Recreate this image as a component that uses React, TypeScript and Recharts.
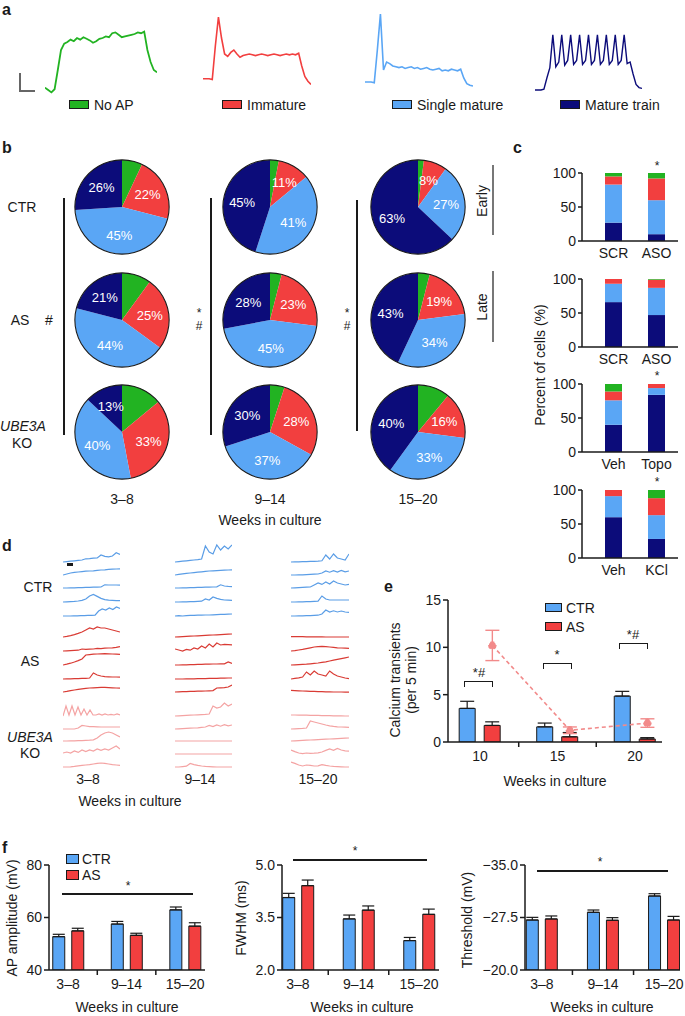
import React from 'react';
import {
  PieChart, Pie, Cell, BarChart, Bar, XAxis, YAxis, ErrorBar, LineChart, Line, ComposedChart,
} from 'recharts';

const FONT = '"Liberation Sans", Arial, Helvetica, sans-serif';
const INK = '#1a1a1a';
const GREEN = '#22b322';
const RED = '#f23f3f';
const LBLUE = '#5aa6f5';
const NAVY = '#0c0c7a';
const TYPE_COLORS = [GREEN, RED, LBLUE, NAVY];

// a: example traces (arbitrary units, 0-100)
const traceNoAP = [8, 5, 2, 6, 30, 55, 63, 65, 68, 66, 70, 68, 71, 69, 67, 64, 66, 69, 70, 72, 71, 76, 77, 74, 71, 72, 73, 74, 75, 77, 76, 78, 55, 40, 30, 27];
const traceImmature = [19, 19, 19, 18, 60, 96, 70, 50, 47, 52, 55, 50, 46, 48, 49, 50, 49, 48, 49, 50, 49, 48, 49, 50, 49, 48, 49, 50, 49, 50, 49, 51, 35, 22, 16, 12];
const traceSingle = [15, 15, 15, 14, 55, 100, 30, 40, 38, 35, 34, 33, 34, 32, 33, 34, 32, 33, 31, 32, 33, 31, 30, 31, 32, 29, 30, 29, 31, 30, 29, 31, 20, 13, 11, 10];
const traceTrain = [5, 5, 5, 6, 20, 33, 74, 34, 40, 74, 36, 42, 74, 37, 42, 74, 37, 42, 74, 37, 42, 74, 37, 42, 74, 37, 42, 74, 37, 42, 74, 38, 40, 25, 12, 8, 7];
const typeNames = ['No AP', 'Immature', 'Single mature', 'Mature train'];

// b: pies, rows CTR / AS / UBE3A KO, columns 3–8 / 9–14 / 15–20
const weekBins = ['3–8', '9–14', '15–20'];
const pieNoAP = [[7, 3, 2], [10, 4, 4], [14, 5, 11]];
const pieImmature = [[22, 11, 8], [25, 23, 19], [33, 28, 16]];
const pieSingle = [[45, 41, 27], [44, 45, 34], [40, 37, 33]];
const pieTrain = [[26, 45, 63], [21, 28, 43], [13, 30, 40]];

// c: stacked percent bars
const cGroups = [['SCR', 'ASO'], ['SCR', 'ASO'], ['Veh', 'Topo'], ['Veh', 'KCl']];
const cTrain = [[27, 10], [66, 47], [40, 84], [60, 28]];
const cSingle = [[56, 50], [27, 40], [36, 10], [31, 35]];
const cImmature = [[12, 32], [7, 12], [13, 6], [9, 25]];
const cNoAP = [[5, 8], [0, 1], [11, 0], [0, 12]];

// d: calcium traces (5 per group)
const dCtr38 = [
  [1, 1.2, 1.4, 1.6, 1.8, 2, 2.6, 2.7, 2.9, 3, 4.5, 3.8, 3.6, 4, 5.6, 4.8],
  [1, 1.5, 2, 2.3, 2.5, 2.7, 2.9, 3, 3.1, 3.3, 3.5, 3.6, 3.8, 3.9, 4, 4.1],
  [1, 1, 1.1, 1.1, 1.2, 1.2, 1.3, 1.3, 1.4, 1.4, 1.5, 2.6, 2.5, 2.5, 2.5, 2.4],
  [1, 1.1, 1.2, 1.3, 1.5, 1.8, 2.5, 4, 4.8, 3.8, 2.8, 2.2, 1.9, 1.8, 1.7, 1.7],
  [1, 1, 1, 1.1, 1.1, 1.2, 1.2, 1.3, 1.3, 1.4, 3.5, 4.5, 4, 5, 4.2, 5.5, 4.8],
];
const dCtr914 = [
  [1, 1.2, 1.4, 1.6, 1.8, 2, 2.2, 2.5, 9, 6, 5, 9.5, 7, 9, 7.5, 9.5],
  [1, 1.3, 1.6, 1.8, 2, 2.2, 2.4, 2.6, 2.8, 3, 3.1, 3.2, 3.3, 3.4, 3.5, 3.6],
  [1, 1, 1.1, 1.1, 1.2, 1.2, 1.3, 1.3, 1.4, 1.4, 1.5, 1.6, 2.6, 2, 1.8, 1.7],
  [1, 1, 1.1, 1.1, 1.2, 1.2, 1.3, 1.4, 2.5, 2, 3.5, 2.8, 2.3, 2, 1.9, 1.8],
  [1, 1.2, 1, 1.2, 1.3, 1.3, 1.4, 1.4, 1.5, 1.5, 1.6, 1.7, 1.8, 1.8, 1.9, 2],
];
const dCtr1520 = [
  [1, 1.1, 1.1, 1.2, 1.2, 1.3, 1.3, 1.4, 1.6, 4.5, 2.5, 5, 3, 2.5, 2, 5],
  [1, 1, 1.1, 1.1, 1.2, 1.3, 1.4, 1.5, 2, 3, 2.4, 3.2, 2.5, 3.3, 2.6, 3],
  [1, 1.1, 1.2, 1.3, 1.4, 1.5, 2.5, 3.5, 2.8, 4, 3, 4.5, 3.5, 3, 2.5, 2.8],
  [1, 1, 1.1, 1.1, 1.2, 1.2, 1.3, 1.4, 4, 2.5, 2, 2, 2, 2, 2, 2],
  [1, 1, 1.1, 1.1, 1.2, 1.2, 1.3, 1.4, 2, 4, 3, 3.6, 3, 3.5, 3, 2.8],
];
const dAs38 = [
  [1, 1.3, 1.7, 2.2, 2.8, 3.5, 4.5, 5.5, 5, 6, 5.5, 5.5, 5, 4.5, 4, 3.5],
  [1, 1.1, 1.2, 1.3, 1.4, 2, 1.8, 1.9, 2, 2.3, 2.2, 2.4, 2.5, 2.6, 2.8, 3.2],
  [1, 1.4, 1.9, 2.5, 3.2, 4, 6, 6.2, 6.4, 6.5, 6.6, 6.7, 6.6, 6.5, 6.4, 6.3],
  [1, 1.1, 1.1, 1.2, 1.2, 1.3, 1.3, 1.5, 4, 3, 2.5, 2.2, 2.1, 2, 2, 1.9],
  [1, 1.3, 1.7, 2, 2.3, 2.6, 2.8, 3, 3.1, 3.2, 3.3, 3.3, 3.2, 3.1, 3, 2.9],
];
const dAs914 = [
  [1, 1.1, 1.2, 1.3, 1.4, 1.5, 1.6, 1.7, 1.8, 1.9, 2, 2.1, 2.2, 2.3, 2.4, 2.5],
  [2, 1.5, 1, 1.8, 1.4, 2.5, 2, 3.5, 2.5, 4.5, 3, 5, 4, 4.3, 4.2, 4.1],
  [1, 1, 1.1, 1.1, 1.2, 1.2, 1.3, 1.3, 1.4, 1.4, 1.5, 1.5, 1.6, 1.6, 2.5, 1.8],
  [1, 1, 1, 1.1, 1.1, 1.1, 1.2, 1.2, 1.2, 1.3, 1.3, 1.3, 1.4, 1.4, 1.5, 1.5],
  [1, 1.1, 1.2, 1.2, 1.3, 1.3, 1.4, 1.4, 1.5, 1.6, 1.7, 3, 3.1, 3.2, 3.5, 4.5],
];
const dAs1520 = [
  [1.2, 1.2, 1.2, 1.2, 1.1, 1.1, 1.1, 1.1, 1.1, 1, 1, 1, 1, 1, 1, 1],
  [1, 1.2, 1.5, 1.8, 2.2, 2.6, 3, 3.2, 3.3, 3.2, 3, 2.8, 2.6, 2.5, 2.4, 2.3],
  [1, 1.1, 1.2, 1.3, 1.4, 1.6, 1.8, 2, 2.3, 2.6, 3, 3.4, 3.8, 4.2, 4.6, 5],
  [1, 1.3, 1.6, 2, 4.5, 3, 5, 3.5, 3, 2.5, 5, 3.5, 2.5, 2, 1.5, 1.2],
  [1.8, 1.7, 1.6, 1.5, 1.4, 1.3, 1.3, 1.2, 1.2, 1.1, 1.1, 1, 1, 1, 0.9, 0.9],
];
const dKo38 = [
  [1, 6, 1.5, 6, 1.5, 5.5, 1.5, 4.5, 1.5, 4, 1.5, 1.5, 2, 1.5, 2, 1.5, 1.8, 1.5, 2, 1.5],
  [1, 1, 1, 1, 1.5, 2.8, 2.5, 2.2, 2.2, 2.1, 2, 2, 2, 2, 2, 2],
  [1, 1, 1.1, 1.1, 1.2, 1.2, 1.3, 1.4, 1.6, 2.5, 4, 5, 5.5, 5, 4, 3],
  [1.5, 2, 1.5, 2.5, 1.8, 3, 2.2, 3, 2.5, 3.5, 2.8, 3.5, 3, 4, 5, 3.5],
  [1, 1, 1.1, 1.3, 1.6, 1.8, 2, 2.2, 2.5, 2.8, 3, 2.8, 2.5, 2.2, 2, 1.8],
];
const dKo914 = [
  [1, 1.1, 1.2, 1.3, 1.4, 1.5, 1.6, 1.7, 1.8, 2, 6, 5, 5.5, 7.5, 6, 7],
  [1, 1.1, 1.2, 1.3, 1.4, 1.5, 1.6, 1.8, 2, 2.8, 2.2, 3, 2.4, 3.2, 2.6, 3],
  [1, 1, 1, 1, 1, 1, 1, 1, 1, 1, 1, 1, 1, 1, 1, 1],
  [1, 1, 1, 1, 1, 1, 1, 1, 1, 1, 1, 1, 1, 1, 1, 1],
  [1, 1, 1.2, 1.4, 2.8, 2.2, 1.8, 1.5, 1.3, 1.2, 1.1, 1, 1, 1, 1, 1],
];
const dKo1520 = [
  [1.5, 1.5, 1.4, 1.4, 1.4, 1.3, 1.3, 1.3, 1.2, 1.2, 1.2, 1.1, 1.1, 1.1, 1, 1],
  [1, 1.1, 1.2, 1.3, 1.5, 5, 4.5, 4, 3.5, 3, 2.6, 2.3, 2.1, 2, 1.9, 1.8],
  [1, 1.1, 1.2, 1.3, 1.4, 1.5, 1.6, 1.7, 1.8, 1.9, 2, 2.1, 2.2, 2.3, 2.4, 2.5],
  [3, 2.2, 1.5, 1.2, 1.5, 1.3, 1.4, 1.6, 2, 2.8, 3.5, 2.8, 3.8, 3, 2.6, 2.4],
  [3.5, 2.8, 2, 1.5, 2, 1.8, 1.5, 1.6, 2.2, 1.8, 1.5, 1.3, 1.2, 1.1, 1, 1],
];

// e: calcium transients per 5 min
const eWeeks = [10, 15, 20];
const eCtr = [3.55, 1.6, 4.85];
const eCtrErr = [0.75, 0.4, 0.5];
const eAs = [1.75, 0.55, 0.32];
const eAsErr = [0.38, 0.45, 0.14];
const eKo = [10.2, 1.24, 2.0];
const eKoErr = [1.6, 0.35, 0.45];

// f: AP properties
const fGroups = [1, 2, 3];
const fAmpCtr = [52.7, 57.5, 62.9];
const fAmpCtrErr = [0.9, 1.0, 1.1];
const fAmpAs = [54.9, 53.2, 56.7];
const fAmpAsErr = [1.0, 0.8, 1.3];
const fFwhmCtr = [4.07, 3.46, 2.84];
const fFwhmCtrErr = [0.12, 0.11, 0.09];
const fFwhmAs = [4.41, 3.71, 3.59];
const fFwhmAsErr = [0.16, 0.12, 0.15];
const fThrCtr = [-27.14, -28.24, -30.57];
const fThrCtrErr = [0.38, 0.33, 0.33];
const fThrAs = [-27.29, -27.1, -27.14];
const fThrAsErr = [0.43, 0.38, 0.52];

const T = ({ x, y, children, size = 14, anchor = 'middle', rot = 0, bold = false, italic = false, color = INK }: any) => {
  const tx = anchor === 'middle' ? '-50%' : anchor === 'end' ? '-100%' : '0';
  return (
    <div style={{
      position: 'absolute', left: x, top: y, transform: `translate(${tx},-50%) rotate(${rot}deg)`,
      fontSize: size, fontWeight: bold ? 700 : 400, fontStyle: italic ? 'italic' : 'normal',
      color, whiteSpace: 'nowrap', lineHeight: 1,
    }}>{children}</div>
  );
};

const Box = ({ x, y, w, h, bg = INK, border }: any) => (
  <div style={{ position: 'absolute', left: x, top: y, width: w, height: h, background: bg, border, boxSizing: 'border-box' }} />
);

const Bracket = ({ x, y, w }: any) => (
  <div style={{ position: 'absolute', left: x, top: y, width: w, height: 6, borderTop: `1.5px solid ${INK}`, borderLeft: `1.5px solid ${INK}`, borderRight: `1.5px solid ${INK}`, boxSizing: 'border-box' }} />
);

const Trace = ({ values, x, y, w, h, color, lo, hi, sw = 1.5 }: any) => {
  const data = values.map((v: number, i: number) => ({ i, v }));
  return (
    <div style={{ position: 'absolute', left: x, top: y }}>
      <LineChart width={w} height={h} data={data} margin={{ top: 0, right: 0, bottom: 0, left: 0 }}>
        <XAxis dataKey="i" hide />
        <YAxis hide domain={[lo, hi]} allowDataOverflow />
        <Line dataKey="v" type="linear" stroke={color} strokeWidth={sw} dot={false} isAnimationActive={false} />
      </LineChart>
    </div>
  );
};

const RAD = Math.PI / 180;
const pieLabel = (p: any) => {
  if (p.index === 0) return null;
  const r = p.outerRadius * 0.6;
  const x = p.cx + r * Math.cos(-p.midAngle * RAD);
  const y = p.cy + r * Math.sin(-p.midAngle * RAD);
  const v = p.value ?? (p.payload && p.payload.value);
  return (
    <text x={x} y={y} fill="#fff" fontSize={13} textAnchor="middle" dominantBaseline="central" fontFamily={FONT}>{v}%</text>
  );
};

const TypePie = ({ cx, cy, row, col }: any) => {
  const vals = [pieNoAP[row][col], pieImmature[row][col], pieSingle[row][col], pieTrain[row][col]];
  const data = typeNames.map((n, i) => ({ name: n, value: vals[i] }));
  return (
    <div style={{ position: 'absolute', left: cx - 52, top: cy - 52 }}>
      <PieChart width={104} height={104} margin={{ top: 0, right: 0, bottom: 0, left: 0 }}>
        <Pie data={data} dataKey="value" cx={52} cy={52} outerRadius={47} startAngle={90} endAngle={-270}
          stroke="none" label={pieLabel} labelLine={false} isAnimationActive={false}>
          {data.map((d, i) => <Cell key={d.name} fill={TYPE_COLORS[i]} />)}
        </Pie>
        <Pie data={[{ value: 1 }]} dataKey="value" cx={52} cy={52} innerRadius={46.6} outerRadius={47.7}
          startAngle={90} endAngle={-270} fill={INK} stroke="none" isAnimationActive={false} />
      </PieChart>
    </div>
  );
};

const StackChart = ({ top, k }: any) => {
  const data = cGroups[k].map((g, i) => ({
    g, train: cTrain[k][i], single: cSingle[k][i], imm: cImmature[k][i], noap: cNoAP[k][i],
  }));
  return (
    <div style={{ position: 'absolute', left: 545, top: top - 13 }}>
      <BarChart width={140} height={111} data={data} margin={{ top: 13, right: 7, left: 0, bottom: 0 }}>
        <XAxis dataKey="g" tickLine={false} axisLine={{ stroke: INK, strokeWidth: 1.5 }} height={30} interval={0}
          padding={{ left: 10, right: 0 }} tick={{ fontSize: 14, fill: INK, fontFamily: FONT }} tickSize={4} tickMargin={3} />
        <YAxis width={37} domain={[0, 100]} ticks={[0, 50, 100]} allowDataOverflow tickSize={4}
          axisLine={{ stroke: INK, strokeWidth: 1.5 }} tickLine={{ stroke: INK, strokeWidth: 1.5 }}
          tick={{ fontSize: 14, fill: INK, fontFamily: FONT }} />
        <Bar dataKey="train" stackId="s" fill={NAVY} barSize={17} isAnimationActive={false} />
        <Bar dataKey="single" stackId="s" fill={LBLUE} barSize={17} isAnimationActive={false} />
        <Bar dataKey="imm" stackId="s" fill={RED} barSize={17} isAnimationActive={false} />
        <Bar dataKey="noap" stackId="s" fill={GREEN} barSize={17} isAnimationActive={false} />
      </BarChart>
    </div>
  );
};

// ticks: labelled values get text, the rest are short boundary marks
const makeTick = (labels: Record<string, string>, size = 14) => (props: any) => {
  const { x, y, payload } = props;
  const lab = labels[String(payload.value)];
  if (lab === undefined) {
    return <line x1={x} x2={x} y1={y - 8} y2={y - 3} stroke={INK} strokeWidth={1.5} />;
  }
  return <text x={x} y={y} dy="0.75em" textAnchor="middle" fontSize={size} fill={INK} fontFamily={FONT}>{lab}</text>;
};

const fTickLabels: Record<string, string> = { '1': '3–8', '2': '9–14', '3': '15–20' };
const fTick = makeTick(fTickLabels);

const BarPanel = ({ left, width, yw, xDomain, yDomain, yTicks, yFmt, ctr, ctrErr, as, asErr, reversed = false }: any) => {
  const data = fGroups.map((g, i) => ({
    g, ctr: ctr[i], as: as[i],
    ctrE: reversed ? [ctrErr[i], 0] : [0, ctrErr[i]],
    asE: reversed ? [asErr[i], 0] : [0, asErr[i]],
  }));
  return (
    <div style={{ position: 'absolute', left, top: 840 }}>
      <ComposedChart width={width} height={150} data={data} margin={{ top: 25, right: 5, left: 0, bottom: 0 }} barGap={7}>
        <XAxis dataKey="g" type="number" domain={xDomain} allowDataOverflow ticks={[1, 1.5, 2, 2.5, 3]} interval={0}
          height={20} tickLine={false} tickSize={4} tickMargin={4} axisLine={{ stroke: INK, strokeWidth: 1.5 }} tick={fTick} />
        <YAxis width={yw} domain={yDomain} ticks={yTicks} allowDataOverflow reversed={reversed} tickFormatter={yFmt}
          tickSize={5} axisLine={{ stroke: INK, strokeWidth: 1.5 }} tickLine={{ stroke: INK, strokeWidth: 1.5 }}
          tick={{ fontSize: 14, fill: INK, fontFamily: FONT }} interval={0} />
        <Bar dataKey="ctr" fill={LBLUE} stroke={INK} strokeWidth={1} barSize={12} isAnimationActive={false}>
          <ErrorBar dataKey="ctrE" width={6} stroke={INK} strokeWidth={1.2} direction="y" />
        </Bar>
        <Bar dataKey="as" fill={RED} stroke={INK} strokeWidth={1} barSize={12} isAnimationActive={false}>
          <ErrorBar dataKey="asE" width={6} stroke={INK} strokeWidth={1.2} direction="y" />
        </Bar>
      </ComposedChart>
    </div>
  );
};

const eTick = makeTick({ '10': '10', '15': '15', '20': '20' });

const CalciumChart = () => {
  const data = eWeeks.map((w, i) => ({
    w, ctr: eCtr[i], as: eAs[i], ko: eKo[i],
    ctrE: [0, eCtrErr[i]], asE: [0, eAsErr[i]], koE: eKoErr[i],
  }));
  return (
    <div style={{ position: 'absolute', left: 380, top: 590 }}>
      <ComposedChart width={290} height={180} data={data} margin={{ top: 10, right: 8, left: 0, bottom: 0 }} barGap={9}>
        <XAxis xAxisId="m" dataKey="w" type="number" domain={[7.94, 21.74]} allowDataOverflow
          ticks={[10, 12.5, 15, 17.5, 20]} interval={0} height={28} tickLine={false} tickSize={4} tickMargin={4}
          axisLine={{ stroke: INK, strokeWidth: 1.5 }} tick={eTick} />
        <XAxis xAxisId="p" dataKey="w" type="number" domain={[7.14, 20.94]} allowDataOverflow hide />
        <YAxis width={68} domain={[0, 15]} ticks={[0, 5, 10, 15]} allowDataOverflow tickSize={5}
          axisLine={{ stroke: INK, strokeWidth: 1.5 }} tickLine={{ stroke: INK, strokeWidth: 1.5 }}
          tick={{ fontSize: 14, fill: INK, fontFamily: FONT }} />
        <Bar xAxisId="m" dataKey="ctr" fill={LBLUE} stroke={INK} strokeWidth={1} barSize={16} isAnimationActive={false}>
          <ErrorBar dataKey="ctrE" width={7} stroke={INK} strokeWidth={1.2} direction="y" />
        </Bar>
        <Bar xAxisId="m" dataKey="as" fill={RED} stroke={INK} strokeWidth={1} barSize={16} isAnimationActive={false}>
          <ErrorBar dataKey="asE" width={7} stroke={INK} strokeWidth={1.2} direction="y" />
        </Bar>
        <Line xAxisId="p" dataKey="ko" type="linear" stroke="#f28a8a" strokeWidth={1.6} strokeDasharray="4 3"
          dot={{ r: 3.5, fill: '#f28a8a', stroke: '#f28a8a' }} isAnimationActive={false}>
          <ErrorBar dataKey="koE" width={7} stroke="#f28a8a" strokeWidth={1.4} direction="y" />
        </Line>
      </ComposedChart>
    </div>
  );
};

const dCols = [63, 175, 291];
const dWidths = [57, 57, 58];
const dGroups = [
  { sets: [dCtr38, dCtr914, dCtr1520], rows: [562, 575, 588, 602, 616], color: '#5a9de6' },
  { sets: [dAs38, dAs914, dAs1520], rows: [637, 651, 665, 679, 692], color: '#d93b34' },
  { sets: [dKo38, dKo914, dKo1520], rows: [716, 729, 741, 754, 767], color: '#f4a3a3' },
];

export default function App() {
  return (
    <div style={{ position: 'relative', width: 685, height: 1016, background: '#fff', fontFamily: FONT, color: INK, overflow: 'hidden' }}>
      <style>{'body{margin:0;}'}</style>

      {/* a */}
      <T x={2} y={10} bold size={16} anchor="start">a</T>
      <Trace values={traceNoAP} x={45} y={14} w={112} h={80} color={GREEN} lo={0} hi={100} sw={1.8} />
      <Trace values={traceImmature} x={203} y={14} w={108} h={80} color={RED} lo={0} hi={100} sw={1.6} />
      <Trace values={traceSingle} x={365} y={14} w={108} h={80} color={LBLUE} lo={0} hi={100} sw={1.6} />
      <Trace values={traceTrain} x={535} y={14} w={107} h={80} color={NAVY} lo={0} hi={100} sw={1.4} />
      <Box x={19} y={73} w={1.5} h={18} bg="#666" />
      <Box x={19} y={90} w={16} h={1.5} bg="#666" />
      {typeNames.map((n, i) => (
        <React.Fragment key={n}>
          <Box x={[69, 222, 392, 560][i]} y={100} w={20} h={9} bg={TYPE_COLORS[i]} border={`1px solid ${INK}`} />
          <T x={[69, 222, 392, 560][i] + 25} y={104.5} anchor="start" size={14}>{n}</T>
        </React.Fragment>
      ))}

      {/* b */}
      <T x={2} y={148} bold size={16} anchor="start">b</T>
      {[0, 1, 2].map((row) => [0, 1, 2].map((col) => (
        <TypePie key={`${row}-${col}`} row={row} col={col} cx={[122, 270, 418][col]} cy={[207, 320, 432][row]} />
      )))}
      <T x={22} y={207}>CTR</T>
      <T x={20} y={320}>AS</T>
      <T x={49} y={320}>#</T>
      <T x={23} y={426} italic>UBE3A</T>
      <T x={22} y={443}>KO</T>
      <Box x={63} y={198} w={1.5} h={237} />
      <Box x={210} y={198} w={1.5} h={237} />
      <Box x={356} y={200} w={1.5} h={231} />
      <T x={199} y={313} size={12}>*</T>
      <T x={199} y={326} size={12}>#</T>
      <T x={347} y={313} size={12}>*</T>
      <T x={347} y={326} size={12}>#</T>
      {weekBins.map((w, i) => <T key={w} x={[122, 270, 418][i]} y={499}>{w}</T>)}
      <T x={270} y={520}>Weeks in culture</T>
      <T x={482} y={201} rot={-90}>Early</T>
      <Box x={492} y={165} w={1.5} h={70} bg="#777" />
      <T x={482} y={307} rot={-90}>Late</T>
      <Box x={492} y={271} w={1.5} h={71} bg="#777" />

      {/* c */}
      <T x={513} y={148} bold size={16} anchor="start">c</T>
      <StackChart top={173} k={0} />
      <StackChart top={279} k={1} />
      <StackChart top={384} k={2} />
      <StackChart top={490} k={3} />
      <T x={657} y={166} size={12}>*</T>
      <T x={657} y={376} size={12}>*</T>
      <T x={657} y={482} size={12}>*</T>
      <T x={540} y={365} rot={-90}>Percent of cells (%)</T>

      {/* d */}
      <T x={2} y={546} bold size={16} anchor="start">d</T>
      {dGroups.map((g, gi) => g.sets.map((set, ci) => set.map((vals, ri) => (
        <Trace key={`${gi}-${ci}-${ri}`} values={vals} x={dCols[ci]} y={g.rows[ri] - 22} w={dWidths[ci]} h={24}
          color={g.color} lo={0} hi={12} sw={1.2} />
      ))))}
      <Box x={67} y={563} w={6} h={3} />
      <T x={38} y={587}>CTR</T>
      <T x={30} y={661}>AS</T>
      <T x={30} y={737} italic>UBE3A</T>
      <T x={30} y={753}>KO</T>
      {weekBins.map((w, i) => <T key={w} x={[88, 200, 318][i]} y={779}>{w}</T>)}
      <T x={130} y={801}>Weeks in culture</T>

      {/* e */}
      <T x={384} y={587} bold size={16} anchor="start">e</T>
      <CalciumChart />
      <T x={395} y={680} rot={-90}>Calcium transients</T>
      <T x={411} y={680} rot={-90}>(per 5 min)</T>
      <T x={555} y={781}>Weeks in culture</T>
      <Box x={545} y={603} w={17} h={9} bg={LBLUE} border={`1.5px solid ${INK}`} />
      <T x={566} y={607.5} anchor="start">CTR</T>
      <Box x={545} y={622} w={17} h={9} bg={RED} border={`1.5px solid ${INK}`} />
      <T x={566} y={626.5} anchor="start">AS</T>
      <Bracket x={464} y={681} w={29} />
      <T x={479} y={672} size={13}>*#</T>
      <Bracket x={543} y={663} w={29} />
      <T x={557} y={654} size={13}>*</T>
      <Bracket x={619} y={643} w={29} />
      <T x={633} y={634} size={13}>*#</T>

      {/* f */}
      <T x={2} y={848} bold size={16} anchor="start">f</T>
      <BarPanel left={0} width={210} yw={49} xDomain={[0.675, 3.34]} yDomain={[40, 80]} yTicks={[40, 60, 80]}
        yFmt={(v: number) => String(v)} ctr={fAmpCtr} ctrErr={fAmpCtrErr} as={fAmpAs} asErr={fAmpAsErr} />
      <BarPanel left={230} width={214} yw={52} xDomain={[0.736, 3.33]} yDomain={[2, 5]} yTicks={[2, 3.5, 5]}
        yFmt={(v: number) => v.toFixed(1)} ctr={fFwhmCtr} ctrErr={fFwhmCtrErr} as={fFwhmAs} asErr={fFwhmAsErr} />
      <BarPanel left={455} width={230} yw={70} xDomain={[0.724, 3.26]} yDomain={[-35, -20]} yTicks={[-35, -27.5, -20]}
        yFmt={(v: number) => `−${Math.abs(v).toFixed(1)}`} ctr={fThrCtr} ctrErr={fThrCtrErr} as={fThrAs} asErr={fThrAsErr} reversed />
      <Box x={66} y={854} w={13} h={10} bg={LBLUE} border={`1.5px solid ${INK}`} />
      <T x={82} y={859} anchor="start">CTR</T>
      <Box x={66} y={870} w={13} h={10} bg={RED} border={`1.5px solid ${INK}`} />
      <T x={82} y={875} anchor="start">AS</T>
      <Box x={62} y={893} w={131} h={1.5} />
      <T x={128} y={886} size={12}>*</T>
      <Box x={293} y={859} w={134} h={1.5} />
      <T x={355} y={851} size={12}>*</T>
      <Box x={537} y={870} w={131} h={1.5} />
      <T x={600} y={862} size={12}>*</T>
      <T x={12} y={918} rot={-90}>AP amplitude (mV)</T>
      <T x={241} y={918} rot={-90}>FWHM (ms)</T>
      <T x={467} y={920} rot={-90}>Threshold (mV)</T>
      <T x={127} y={1007}>Weeks in culture</T>
      <T x={362} y={1007}>Weeks in culture</T>
      <T x={602} y={1007}>Weeks in culture</T>
    </div>
  );
}
